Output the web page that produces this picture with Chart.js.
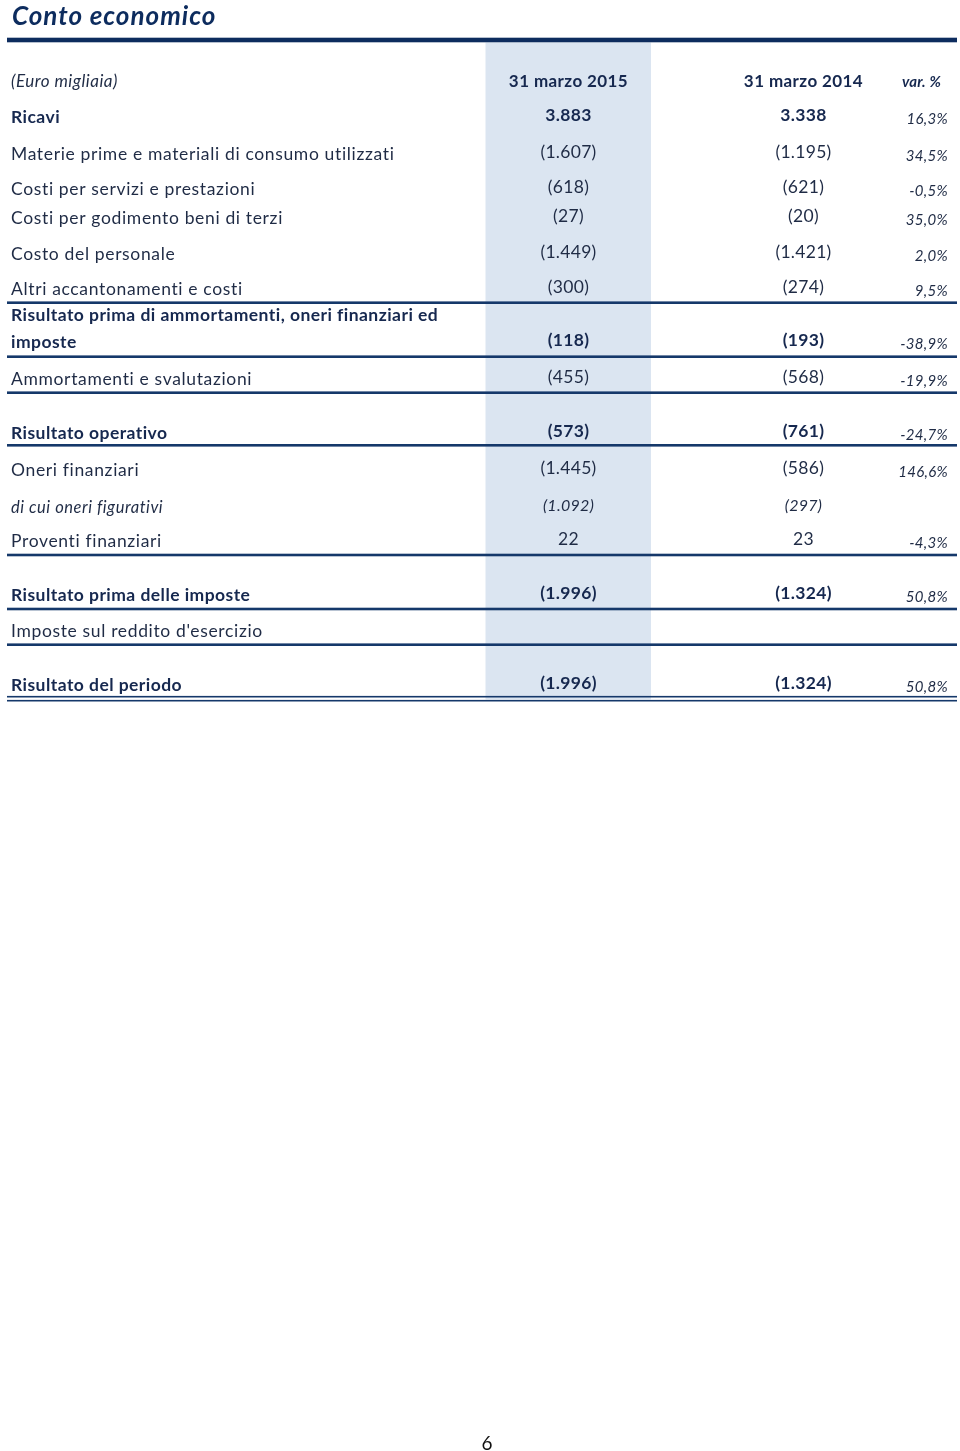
<!DOCTYPE html>
<html><head><meta charset="utf-8">
<script src="https://cdn.jsdelivr.net/npm/chart.js@4.4.1/dist/chart.umd.min.js"></script>
<style>html,body{margin:0;padding:0;background:#fff;}canvas{display:block;}</style>
</head><body>
<canvas id="c" width="960" height="1451"></canvas>
<script>
// ---------- DATA ----------
const title = "Conto economico";
const unitLabel = "(Euro migliaia)";
const columnHeaders = ["31 marzo 2015", "31 marzo 2014", "var. %"];
const rowLabels = [
  "Ricavi",
  "Materie prime e materiali di consumo utilizzati",
  "Costi per servizi e prestazioni",
  "Costi per godimento beni di terzi",
  "Costo del personale",
  "Altri accantonamenti e costi",
  ["Risultato prima di ammortamenti, oneri finanziari ed", "imposte"],
  "Ammortamenti e svalutazioni",
  "Risultato operativo",
  "Oneri finanziari",
  "di cui oneri figurativi",
  "Proventi finanziari",
  "Risultato prima delle imposte",
  "Imposte sul reddito d'esercizio",
  "Risultato del periodo"
];
const values2015 = [3883, -1607, -618, -27, -1449, -300, -118, -455, -573, -1445, -1092, 22, -1996, null, -1996];
const values2014 = [3338, -1195, -621, -20, -1421, -274, -193, -568, -761, -586, -297, 23, -1324, null, -1324];
const varPercent = [16.3, 34.5, -0.5, 35.0, 2.0, 9.5, -38.9, -19.9, -24.7, 146.6, null, -4.3, 50.8, null, 50.8];
const pageNumber = "6";

// ---------- STYLE / LAYOUT ----------
const rowStyle = ["bold","normal","normal","normal","normal","normal","bold","normal","bold","normal","italic","normal","bold","normal","bold"];
const rowBaseline = [123, 160, 195, 224, 260, 295, [321, 348], 385, 439, 476, 513, 547, 601, 637, 691];
const ruleLines = [302.7, 356.7, 392.7, 445.3, 555, 609, 644.7];
const doubleRule = [696.7, 700.7];
const FONT = "Lato, 'Open Sans', sans-serif";
const NAVY = "#0d2c5e";
const RULE = "#15386a";
const SHADE = "#dbe5f1";
const TXT = "#1f2b45";
const TXT_BOLD = "#16284f";
const COL1 = 568.5, COL2 = 803.5, VARX = 948, LABELX = 11;

function fmtVal(v){
  if (v === null || v === undefined) return "";
  const s = Math.abs(v).toString().replace(/\B(?=(\d{3})+(?!\d))/g, ".");
  return v < 0 ? "(" + s + ")" : s;
}
function fmtPct(v){
  if (v === null || v === undefined) return "";
  return v.toFixed(1).replace(".", ",") + "%";
}

const tablePlugin = {
  id: "tableDraw",
  afterDraw(chart){
    const ctx = chart.ctx;
    const sx = chart.scales.x, sy = chart.scales.y;
    const px = v => sx.getPixelForValue(v);
    const py = v => sy.getPixelForValue(v);
    const sp = s => { ctx.letterSpacing = s + "px"; };
    ctx.save();
    // shaded current-year column
    ctx.fillStyle = SHADE;
    ctx.fillRect(px(485.5), py(42.5), px(651) - px(485.5), py(699.5) - py(42.5));

    // title
    ctx.fillStyle = NAVY;
    ctx.font = "italic bold 26px " + FONT;
    ctx.textBaseline = "alphabetic";
    ctx.textAlign = "left";
    sp(1.0);
    ctx.fillText(title, px(12), py(25));
    ctx.fillRect(px(7), py(37.7), px(957) - px(7), 4.6);

    // header row
    ctx.fillStyle = TXT;
    ctx.font = "italic 17px " + FONT;
    sp(0.5);
    ctx.fillText(unitLabel, px(LABELX), py(87));
    ctx.fillStyle = TXT_BOLD;
    ctx.font = "bold 17px " + FONT;
    ctx.textAlign = "center";
    sp(0.4);
    ctx.fillText(columnHeaders[0], px(COL1), py(87));
    ctx.fillText(columnHeaders[1], px(COL2), py(87));
    ctx.font = "italic bold 15px " + FONT;
    ctx.textAlign = "right";
    sp(0.2);
    ctx.fillText(columnHeaders[2], px(941), py(87));

    // rows
    rowLabels.forEach((lab, i) => {
      const st = rowStyle[i];
      const bold = st === "bold", ital = st === "italic";
      const base = rowBaseline[i];
      const lines = Array.isArray(lab) ? lab : [lab];
      const bases = Array.isArray(base) ? base : [base];
      const last = bases[bases.length - 1];
      ctx.fillStyle = bold ? TXT_BOLD : TXT;
      ctx.font = (ital ? "italic " : "") + (bold ? "bold " : "") + (ital ? "16.5px " : "17.5px ") + FONT;
      ctx.textAlign = "left";
      sp(bold ? 0.45 : (ital ? 0.55 : 0.65));
      lines.forEach((t, k) => ctx.fillText(t, px(LABELX), py(bases[k])));
      // values
      ctx.font = (ital ? "italic " : "") + (bold ? "bold " : "") + (ital ? "16px " : "17.5px ") + FONT;
      ctx.textAlign = "center";
      sp(0.3);
      ctx.fillText(fmtVal(values2015[i]), px(COL1), py(last - 2));
      ctx.fillText(fmtVal(values2014[i]), px(COL2), py(last - 2));
      // var %
      ctx.fillStyle = TXT;
      ctx.font = "italic 15px " + FONT;
      ctx.textAlign = "right";
      sp(0.3);
      ctx.fillText(fmtPct(varPercent[i]), px(VARX), py(last + 1));
    });
    sp(0);

    // rules
    ctx.fillStyle = RULE;
    ruleLines.forEach(yv => ctx.fillRect(px(7), py(yv - 1.3), px(957) - px(7), 2.6));
    doubleRule.forEach(yv => ctx.fillRect(px(7), py(yv - 0.8), px(957) - px(7), 1.6));

    // page number
    ctx.fillStyle = "#111";
    ctx.font = "19px " + FONT;
    ctx.textAlign = "center";
    ctx.fillText(pageNumber, px(487), py(1450));
    ctx.restore();
  }
};

new Chart(document.getElementById("c").getContext("2d"), {
  type: "scatter",
  data: { datasets: [] },
  options: {
    responsive: false,
    devicePixelRatio: 1,
    animation: false,
    events: [],
    layout: { padding: 0 },
    plugins: { legend: { display: false }, tooltip: { enabled: false } },
    scales: {
      x: { type: "linear", min: 0, max: 960, display: false },
      y: { type: "linear", min: 0, max: 1451, reverse: true, display: false }
    }
  },
  plugins: [tablePlugin]
});
</script>
</body></html>
